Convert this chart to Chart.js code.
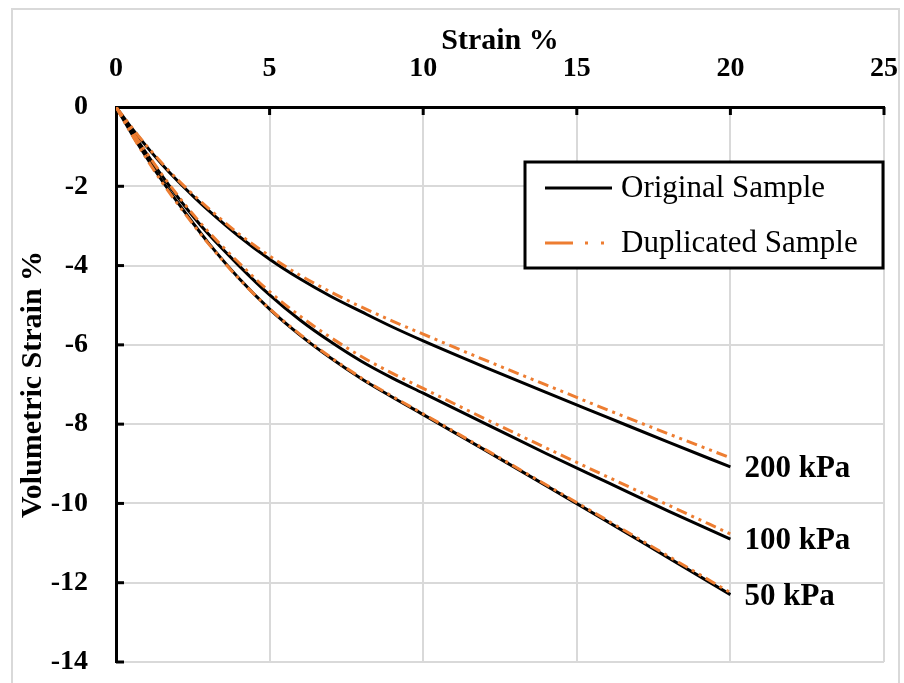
<!DOCTYPE html>
<html>
<head>
<meta charset="utf-8">
<script src="https://cdn.jsdelivr.net/npm/chart.js@4.4.1/dist/chart.umd.min.js"></script>
<style>
  html, body { margin: 0; padding: 0; background: #fff; }
  #wrap { width: 904px; height: 683px; }
</style>
</head>
<body>
<div id="wrap"><canvas id="strainChart" width="904" height="683"></canvas></div>
<script>
// axial strain (%) where each curve was read
const strain = [0, 0.5, 1, 1.5, 2, 2.5, 3, 4, 5, 6, 7, 8, 9, 10, 12, 14, 16, 18, 20];

// volumetric strain (%), original samples
const orig50  = [0, -0.66, -1.28, -1.86, -2.4, -2.92, -3.42, -4.32, -5.1, -5.76, -6.34, -6.86, -7.32, -7.76, -8.65, -9.55, -10.46, -11.38, -12.3];
const orig100 = [0, -0.6, -1.18, -1.74, -2.26, -2.75, -3.2, -4.0, -4.74, -5.38, -5.93, -6.42, -6.84, -7.22, -7.98, -8.74, -9.47, -10.2, -10.9];
const orig200 = [0, -0.52, -1.0, -1.45, -1.86, -2.24, -2.6, -3.26, -3.84, -4.34, -4.78, -5.17, -5.55, -5.9, -6.56, -7.2, -7.83, -8.46, -9.08];

// volumetric strain (%), duplicated samples
const dup50  = [0, -0.68, -1.31, -1.9, -2.44, -2.95, -3.44, -4.33, -5.09, -5.74, -6.32, -6.84, -7.3, -7.74, -8.63, -9.53, -10.43, -11.34, -12.25];
const dup100 = [0, -0.59, -1.16, -1.71, -2.22, -2.7, -3.14, -3.93, -4.66, -5.28, -5.82, -6.3, -6.72, -7.1, -7.86, -8.6, -9.33, -10.05, -10.77];
const dup200 = [0, -0.5, -0.98, -1.42, -1.83, -2.2, -2.55, -3.2, -3.76, -4.25, -4.67, -5.05, -5.4, -5.73, -6.38, -7.01, -7.64, -8.25, -8.85];

const xTicks = [0, 5, 10, 15, 20, 25];
const yTicks = [0, -2, -4, -6, -8, -10, -12, -14];
const pressureLabels = ['50 kPa', '100 kPa', '200 kPa'];
const legendNames = ['Original Sample', 'Duplicated Sample'];

const ORANGE = '#ED7D31';
const DASH = [11, 5, 3, 5, 3, 5];
const SERIF = "'Liberation Serif', 'Times New Roman', serif";

function pts(ys) {
    return strain.map((x, i) => ({ x: x, y: ys[i] }));
}

function line(name, ys, color, dash, order) {
    return {
        label: name,
        data: pts(ys),
        borderColor: color,
        borderWidth: 3,
        borderDash: dash,
        pointRadius: 0,
        showLine: true,
        fill: false,
        cubicInterpolationMode: 'monotone',
        order: order
    };
}

const origSets = [orig50, orig100, orig200];

function noPad(scale) {
    scale.paddingLeft = 0;
    scale.paddingRight = 0;
    scale.paddingTop = 0;
    scale.paddingBottom = 0;
}

// white page + light grey frame
const frame = {
    id: 'frame',
    beforeDraw(chart) {
        const c = chart.ctx;
        c.save();
        c.fillStyle = '#fff';
        c.fillRect(0, 0, chart.width, chart.height);
        c.strokeStyle = '#d9d9d9';
        c.lineWidth = 2;
        c.strokeRect(12, 9, 887, 680);
        c.restore();
    }
};

// inside tick marks, end labels and the boxed legend
const extras = {
    id: 'extras',
    afterDraw(chart) {
        const c = chart.ctx;
        const xs = chart.scales.x, ys = chart.scales.y;
        const area = chart.chartArea;
        c.save();
        c.strokeStyle = '#000';
        c.lineWidth = 3;
        c.setLineDash([]);
        xTicks.slice(1).forEach(v => {
            const px = xs.getPixelForValue(v);
            c.beginPath(); c.moveTo(px, area.top); c.lineTo(px, area.top + 8); c.stroke();
        });
        yTicks.slice(1).forEach(v => {
            const py = ys.getPixelForValue(v);
            c.beginPath(); c.moveTo(area.left, py); c.lineTo(area.left + 8, py); c.stroke();
        });

        // pressure labels beside the curve ends
        c.fillStyle = '#000';
        c.font = 'bold 31px ' + SERIF;
        c.textBaseline = 'middle';
        c.textAlign = 'left';
        origSets.forEach((s, i) => {
            const last = s.length - 1;
            const px = xs.getPixelForValue(strain[last]) + 14;
            const py = ys.getPixelForValue(s[last]) + 2;
            c.fillText(pressureLabels[i], px, py);
        });

        // legend box
        const bx = 525, by = 162, bw = 358, bh = 106;
        c.fillStyle = '#fff';
        c.fillRect(bx, by, bw, bh);
        c.strokeStyle = '#000';
        c.lineWidth = 3;
        c.strokeRect(bx, by, bw, bh);
        const rows = [by + 26, by + 81];
        c.beginPath(); c.moveTo(545, rows[0]); c.lineTo(612, rows[0]); c.stroke();
        c.strokeStyle = ORANGE;
        c.setLineDash([28, 12, 3, 13, 3, 20]);
        c.beginPath(); c.moveTo(545, rows[1]); c.lineTo(612, rows[1]); c.stroke();
        c.setLineDash([]);
        c.fillStyle = '#000';
        c.font = '31px ' + SERIF;
        c.fillText(legendNames[0], 621, rows[0] + 1);
        c.fillText(legendNames[1], 621, rows[1] + 1);
        c.restore();
    }
};

new Chart(document.getElementById('strainChart').getContext('2d'), {
    type: 'scatter',
    data: {
        datasets: [
            line('Original Sample', orig50, '#000', [], 1),
            line('Original Sample', orig100, '#000', [], 1),
            line('Original Sample', orig200, '#000', [], 1),
            line('Duplicated Sample', dup50, ORANGE, DASH, 0),
            line('Duplicated Sample', dup100, ORANGE, DASH, 0),
            line('Duplicated Sample', dup200, ORANGE, DASH, 0)
        ]
    },
    options: {
        responsive: false,
        animation: false,
        layout: { padding: { left: 0, top: 0, right: 20, bottom: 21 } },
        plugins: {
            legend: { display: false },
            tooltip: { enabled: false }
        },
        scales: {
            x: {
                type: 'linear',
                position: 'top',
                min: 0,
                max: 25,
                afterFit(scale) { scale.height = 107; noPad(scale); },
                afterBuildTicks(scale) { scale.ticks = xTicks.map(v => ({ value: v })); },
                grid: { color: '#d9d9d9', lineWidth: 2, drawTicks: false },
                border: { color: '#000', width: 3 },
                ticks: {
                    padding: 21,
                    color: '#000',
                    font: { family: SERIF, size: 28, weight: 'bold' }
                },
                title: {
                    display: true,
                    text: 'Strain %',
                    color: '#000',
                    padding: { top: 23, bottom: 0 },
                    font: { family: SERIF, size: 30, weight: 'bold' }
                }
            },
            y: {
                type: 'linear',
                position: 'left',
                min: -14,
                max: 0,
                afterFit(scale) { scale.width = 116; noPad(scale); },
                afterBuildTicks(scale) { scale.ticks = yTicks.map(v => ({ value: v })); },
                grid: { color: '#d9d9d9', lineWidth: 2, drawTicks: false },
                border: { color: '#000', width: 3 },
                ticks: {
                    padding: 28,
                    color: '#000',
                    font: { family: SERIF, size: 28, weight: 'bold' }
                },
                title: {
                    display: true,
                    text: 'Volumetric Strain %',
                    color: '#000',
                    padding: { top: 15, bottom: 0 },
                    font: { family: SERIF, size: 30, weight: 'bold' }
                }
            }
        }
    },
    plugins: [frame, extras]
});
</script>
</body>
</html>
